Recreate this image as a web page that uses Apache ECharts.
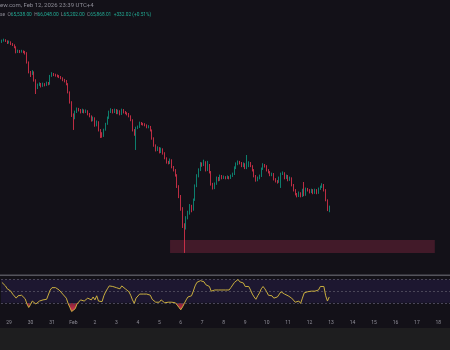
<!DOCTYPE html>
<html><head><meta charset="utf-8">
<script src="https://cdn.jsdelivr.net/npm/echarts@6/dist/echarts.min.js"></script>
<style>html,body{margin:0;padding:0;background:#131118}#c{width:450px;height:350px}</style>
</head><body><div id="c"></div><script>
// 2-hour bars starting 2026-01-28 16:00
const slotCount = 251;
const opens = [
86900,87030,87150,87030,86770,86900,86640,86520,86260,85620,
85750,85620,85750,85620,85500,84350,83080,82820,83080,82060,
81040,81420,81550,81290,81550,81420,81670,81550,82570,82820,
82690,82650,82570,82440,82310,82060,81930,81550,80530,79250,
77600,77220,77980,78360,78230,77980,78230,77980,78110,77720,
77470,76960,77220,76320,76710,75690,75300,74920,75690,76450,
77220,77980,78230,77980,78230,77850,78110,77720,78230,77980,
77850,77720,77470,76960,75690,75180,75940,76070,76580,76450,
76400,76320,76070,76100,75690,74670,73780,73140,73390,72880,
73270,72760,72120,71610,71480,71860,70970,70590,69950,68550,
67280,65750,63580,63200,64480,65110,66000,65490,66770,68550,
69830,70590,71350,71230,71610,70590,71230,70340,68810,68300,
68810,69570,69320,69830,69570,69700,69570,69700,69570,69830,
70080,70850,71350,71610,71480,71100,71350,70850,71100,71480,
71100,70590,69830,69320,69570,69830,70720,71230,71100,70590,
70340,69950,70080,69440,69190,69060,69570,70080,70210,69570,
69830,69320,69570,68680,68040,67530,67280,67660,67280,68040,
67410,68170,68040,67790,68040,67660,68040,67660,68170,68420,
68680,68040,66770,65538];
const closes = [
87030,87150,87030,86770,86900,86640,86520,86260,85620,85750,
85620,85750,85620,85500,84350,83080,82820,83080,82060,81040,
81420,81550,81290,81550,81420,81670,81550,82570,82820,82690,
82650,82570,82440,82310,82060,81930,81550,80530,79250,77600,
77220,77980,78360,78230,77980,78230,77980,78110,77720,77470,
76960,77220,76320,76710,75690,75300,74920,75690,76450,77220,
77980,78230,77980,78230,77850,78110,77720,78230,77980,77850,
77720,77470,76960,75690,75180,75940,76070,76580,76450,76400,
76320,76070,76100,75690,74670,73780,73140,73390,72880,73270,
72760,72120,71610,71480,71860,70970,70590,69950,68550,67280,
65750,63580,63200,64480,65110,66000,65490,66770,68550,69830,
70590,71350,71230,71610,70590,71230,70340,68810,68300,68810,
69570,69320,69830,69570,69700,69570,69700,69570,69830,70080,
70850,71350,71610,71480,71100,71350,70850,71100,71480,71100,
70590,69830,69320,69570,69830,70720,71230,71100,70590,70340,
69950,70080,69440,69190,69060,69570,70080,70210,69570,69830,
69320,69570,68680,68040,67530,67280,67660,67280,68040,67410,
68170,68040,67790,68040,67660,68040,67660,68170,68420,68680,
68040,66770,65620,65868];
const highs = [
87200,87320,87250,87100,87080,86980,86760,86600,86350,85920,
85880,85900,85830,85760,85600,84420,83200,83300,83150,82150,
81600,81750,81680,81720,81650,81850,81800,82700,83050,82950,
82850,82760,82680,82560,82400,82200,82050,81650,80600,79350,
77800,78150,78550,78500,78350,78400,78300,78300,78200,77850,
77550,77400,77300,76900,76800,75800,75400,75850,76600,77400,
78150,78450,78350,78400,78350,78280,78200,78400,78350,78100,
77950,77850,77550,77050,75800,76100,76250,76750,76700,76600,
76550,76400,76300,76200,75750,74750,73850,73600,73500,73450,
73350,72850,72200,71750,72050,71950,71100,70700,70050,68650,
67400,65850,63800,64700,65400,66250,66150,66950,68750,70050,
70800,71600,71550,71900,71700,71750,71350,70450,68950,69000,
69750,69700,70000,69950,69880,69800,69900,69800,70000,70250,
71050,71550,71800,71750,71600,71550,71450,72500,71700,71600,
71200,70700,69950,69750,70000,70900,71450,71350,71200,70700,
70450,70250,70200,69550,69300,69750,70250,70400,70300,70000,
69950,69750,69650,68800,68150,67650,67850,67750,68200,69060,
68350,68300,68150,68200,68150,68200,68150,68350,68600,68900,
68800,68150,66850,66048];
const lows = [
86780,86950,86900,86640,86700,86500,86380,86100,85450,85500,
85480,85540,85470,85300,84150,82900,82440,82700,81850,80270,
80900,81300,81100,81180,81250,81300,81380,81450,82450,82550,
82480,82400,82300,82150,81900,81750,81380,80350,79050,77350,
75690,77050,77850,78050,77800,77850,77800,77850,77550,77300,
76750,76800,76100,76150,75500,74670,74700,74800,75600,76350,
77100,77850,77800,77850,77700,77700,77550,77600,77800,77700,
77550,77300,76800,75500,74950,73140,75800,75950,76300,76250,
76150,75900,75900,75500,74450,73550,72950,73000,72700,72750,
72550,71950,71400,71300,71350,70800,70400,69750,68300,67000,
65400,63200,60020,63000,64300,64900,65200,65400,66650,68400,
69650,70450,71000,71100,70400,70450,70150,68600,68100,68150,
68700,69150,69200,69400,69450,69400,69450,69400,69450,69700,
69950,70700,71200,71300,70950,70950,70700,70700,70950,70950,
70400,69650,69100,69150,69400,69700,70600,70900,70400,70150,
69800,69800,69250,69000,68850,68950,68300,69950,69400,69450,
69150,69200,68500,67850,67350,67100,67150,67100,67150,67250,
67300,67850,67600,67650,67500,67550,67500,67550,68050,68300,
67850,66600,65350,65202];
const rsiValues = [
65,63,59,54,56,50,45,42,38,42,
40,43,40,37,28,22,27,33,31,28,
31,33,31,35,33,36,38,52,56,54,
56,54,52,49,45,42,38,29,22,15,
12,20,28,31,35,36,33,35,38,36,
35,40,35,42,33,31,32,42,49,54,
59,61,58,61,56,58,54,59,56,54,
52,49,43,35,29,38,40,45,43,45,
47,45,47,43,36,33,31,34,31,35,
32,30,30,31,33,31,32,30,26,22,
18,23,29,35,40,43,42,50,59,65,
66,68,65,66,61,63,58,50,49,52,
54,52,54,52,54,52,54,52,56,59,
65,68,70,66,63,64,58,61,58,52,
45,40,36,42,47,54,58,54,49,43,
40,42,38,36,40,43,49,52,45,47,
42,45,38,35,31,29,33,29,38,47,
50,49,47,50,47,50,47,52,58,61,
58,42,33,40];
const rsiLevels = [30, 50, 70];
const tickDates = ['2026-01-29','2026-01-30','2026-01-31','2026-02-01','2026-02-02','2026-02-03','2026-02-04','2026-02-05','2026-02-06','2026-02-07','2026-02-08','2026-02-09','2026-02-10','2026-02-11','2026-02-12','2026-02-13','2026-02-14','2026-02-15','2026-02-16','2026-02-17','2026-02-18'];
const tickLabels = ['29','30','31','Feb','2','3','4','5','6','7','8','9','10','11','12','13','14','15','16','17','18'];
const zoneStart = '2026-02-05 12:00';
const zoneEnd = '2026-02-17 20:00';
const zoneLow = 60020;
const zoneHigh = 61670;

function pad(n){return (n<10?'0':'')+n;}
const t0 = Date.UTC(2026,0,28,16);
const cats = [];
for (let i=0;i<slotCount;i++){
  const d = new Date(t0 + i*7200000);
  cats.push(d.getUTCFullYear()+'-'+pad(d.getUTCMonth()+1)+'-'+pad(d.getUTCDate())+' '+pad(d.getUTCHours())+':00');
}
const candles = closes.map((c,i)=>[opens[i], c, lows[i], highs[i]]);
const tickMap = {};
tickDates.forEach((d,i)=>{ tickMap[d+' 00:00'] = tickLabels[i]; });

// oversold fill: gradient relative to the fill polygon's bounding box
const rMax = Math.max(rsiLevels[0], ...rsiValues);
const rMin = Math.min(rsiLevels[0], ...rsiValues);
const cut = (rMax - rsiLevels[0]) / (rMax - rMin);
const oversoldFill = new echarts.graphic.LinearGradient(0, 0, 0, 1, [
  {offset: 0, color: 'rgba(0,0,0,0)'},
  {offset: Math.max(0, cut - 0.002), color: 'rgba(0,0,0,0)'},
  {offset: cut, color: 'rgba(200,45,75,0.6)'},
  {offset: 1, color: 'rgba(250,65,90,1)'}
]);

const rsiTop = 267.85, rsiH = 46.6;
const chart = echarts.init(document.getElementById('c'), null, {renderer:'canvas'});
const font = 'Roboto, "Noto Sans", sans-serif';
chart.setOption({
  backgroundColor: '#131118',
  animation: false,
  title: [
    {text: 'ew.com, Feb 12, 2026 23:39 UTC+4', left: 0, top: 2, padding: 0,
     textStyle: {color: '#8d8c96', fontSize: 6, fontWeight: 'normal', fontFamily: font}},
    {text: '{g|se}  {g|O}{v|65,538.00}  {g|H}{v|66,048.00}  {g|L}{v|65,202.00}  {g|C}{v|65,868.01}  {v|+332.02 (+0.51%)}',
     left: 0, top: 12.5, padding: 0,
     textStyle: {fontSize: 4.8, fontFamily: font, fontWeight: 'normal', rich: {
       g: {color: '#8d8c96', fontSize: 4.8},
       v: {color: '#22ab94', fontSize: 4.8}
     }}}
  ],
  graphic: [
    {type: 'rect', left: 0, top: 274.5, shape: {width: 450, height: 1.6}, style: {fill: '#55545c'}, silent: true},
    {type: 'rect', left: 0, top: 328, shape: {width: 450, height: 22}, style: {fill: '#1e1e1f'}, silent: true}
  ],
  grid: [
    {left: 1, right: 0, top: 20, height: 248},
    {left: 1, right: 0, top: rsiTop, height: rsiH}
  ],
  xAxis: [
    {type: 'category', gridIndex: 0, data: cats, boundaryGap: true,
     axisLine: {show: false}, axisTick: {show: false}, axisLabel: {show: false}, splitLine: {show: false}},
    {type: 'category', gridIndex: 1, data: cats, boundaryGap: true,
     axisLine: {show: false}, axisTick: {show: false}, splitLine: {show: false},
     axisLabel: {show: true, color: '#8f8e98', fontSize: 5, fontFamily: font, margin: 6, hideOverlap: false,
       interval: (idx, val) => tickMap[val] !== undefined,
       formatter: (val) => tickMap[val] || ''}}
  ],
  yAxis: [
    {type: 'value', gridIndex: 0, min: 58100, max: 89700, show: false, splitLine: {show: false}},
    {type: 'value', gridIndex: 1, min: 10, max: 90, show: false, splitLine: {show: false}}
  ],
  series: [
    {type: 'candlestick', xAxisIndex: 0, yAxisIndex: 0, data: candles, barWidth: '62%', z: 3,
     itemStyle: {color: '#0c9a84', color0: '#e8354f', borderColor: '#0c9a84', borderColor0: '#e8354f', borderWidth: 0.8},
     markArea: {silent: true, itemStyle: {color: '#421a29'},
       data: [[{xAxis: zoneStart, yAxis: zoneHigh}, {xAxis: zoneEnd, yAxis: zoneLow}]]}},
    {type: 'line', xAxisIndex: 1, yAxisIndex: 1, data: rsiValues, symbol: 'none', z: 2, silent: true,
     lineStyle: {width: 0, opacity: 0}, areaStyle: {origin: rsiLevels[0], opacity: 1, color: oversoldFill},
     markArea: {silent: true, itemStyle: {color: '#1d1730'}, data: [[{yAxis: rsiLevels[0]}, {yAxis: rsiLevels[2]}]]},
     markLine: {silent: true, symbol: 'none', label: {show: false},
       lineStyle: {color: '#4a4658', type: [2, 2], width: 1},
       data: rsiLevels.map(v => ({yAxis: v}))}},
    {type: 'line', xAxisIndex: 1, yAxisIndex: 1, data: rsiValues, symbol: 'none', z: 5, silent: true,
     lineStyle: {color: '#c9ae3e', width: 1}}
  ]
});
</script></body></html>
